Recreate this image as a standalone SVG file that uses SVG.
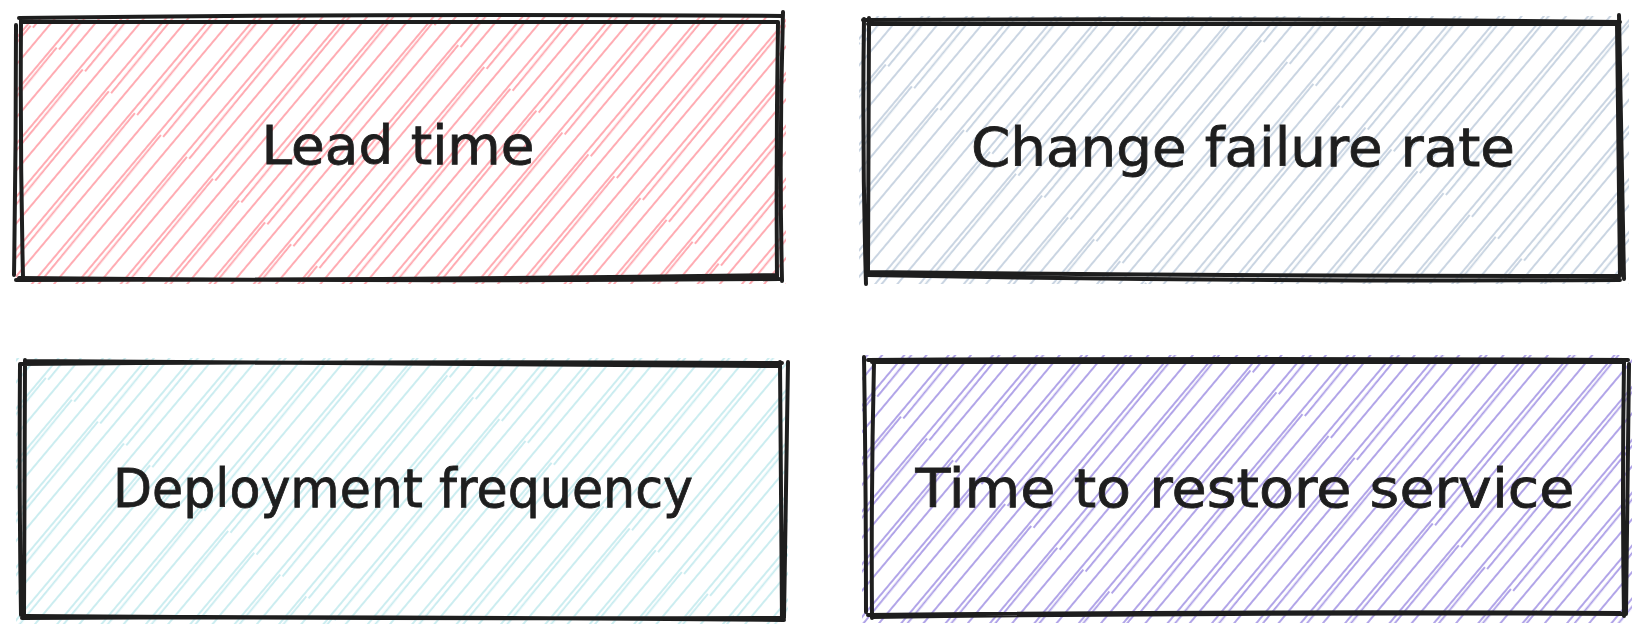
<svg xmlns="http://www.w3.org/2000/svg" width="1646" height="638" viewBox="0 0 1646 638">
<style>
.b{fill:none;stroke:#1e1e1e;stroke-width:4;stroke-linecap:round;stroke-linejoin:round}
.t{font-family:"DejaVu Sans","Liberation Sans",sans-serif;font-size:53px;fill:#1e1e1e;text-anchor:middle;stroke:#1e1e1e;stroke-width:0.8}
</style>
<defs>
<pattern id="hp" patternUnits="userSpaceOnUse" width="34" height="260" patternTransform="rotate(40)">
<g stroke="#ffa3ab" stroke-width="1.8" fill="none"><path d="M3 0 L3 260"/><path d="M6 0 L9 260"/><path d="M20 0 L20 260"/></g>
</pattern>
<pattern id="hg" patternUnits="userSpaceOnUse" width="34" height="260" patternTransform="rotate(40)">
<g stroke="#c4d1df" stroke-width="1.8" fill="none"><path d="M3 0 L3 260"/><path d="M6 0 L9 260"/><path d="M20 0 L20 260"/></g>
</pattern>
<pattern id="hc" patternUnits="userSpaceOnUse" width="34" height="260" patternTransform="rotate(40)">
<g stroke="#c6ebef" stroke-width="1.8" fill="none"><path d="M3 0 L3 260"/><path d="M6 0 L9 260"/><path d="M20 0 L20 260"/></g>
</pattern>
<pattern id="hv" patternUnits="userSpaceOnUse" width="34" height="260" patternTransform="rotate(40)">
<g stroke="#a99be6" stroke-width="1.8" fill="none"><path d="M3 0 L3 260"/><path d="M6 0 L9 260"/><path d="M20 0 L20 260"/></g>
</pattern>
</defs>
<rect width="1646" height="638" fill="#ffffff"/>
<g id="lead-time">
<rect x="16" y="16" width="770" height="268" fill="url(#hp)"/>
<path class="b" d="M19 18 Q400 13 783 16 M21 22 Q400 22 778 22 M783 12 Q779 150 782 281 M778 22 Q776 150 777 277 M779 279 Q400 282 19 278 M775 275 Q400 280 16 280 M14 275 Q16 150 16 25 M23 277 Q20 150 21 20"/>
<text class="t" x="398" y="164" textLength="273" lengthAdjust="spacingAndGlyphs">Lead time</text>
</g>
<g id="change-failure-rate">
<rect x="859" y="16" width="770" height="268" fill="url(#hg)"/>
<path class="b" d="M863 20 Q1240 18 1620 22 M868 24 Q1240 24 1618 24 M1619 15 Q1622 150 1624 279 M1617 24 Q1619 150 1620 276 M1619 276 Q1240 276 866 272 M1620 280 Q1240 282 868 275 M866 284 Q862 150 864 19 M868 270 Q869 150 869 18"/>
<text class="t" x="1243" y="166" textLength="544" lengthAdjust="spacingAndGlyphs">Change failure rate</text>
</g>
<g id="deployment-frequency">
<rect x="16" y="358" width="772" height="266" fill="url(#hc)"/>
<path class="b" d="M20 364 Q400 361 782 363 M25 361 Q400 364 780 366 M780 362 Q781 490 782 620 M788 362 Q786 490 784 618 M784 620 Q400 616 22 618 M780 618 Q400 619 26 616 M21 615 Q19 490 20 364 M24 617 Q24 490 25 360"/>
<text class="t" x="403" y="507" textLength="580" lengthAdjust="spacingAndGlyphs">Deployment frequency</text>
</g>
<g id="time-to-restore-service">
<rect x="862" y="355" width="770" height="268" fill="url(#hv)"/>
<path class="b" d="M868 360 Q1240 358 1628 360 M872 362 Q1240 362 1622 362 M1624 362 Q1622 490 1624 616 M1629 364 Q1628 490 1626 614 M1625 614 Q1240 612 872 617 M1620 613 Q1240 611 868 615 M864 357 Q866 490 866 612 M874 362 Q871 490 872 618"/>
<text class="t" x="1245" y="507" textLength="659" lengthAdjust="spacingAndGlyphs">Time to restore service</text>
</g>
<g id="connectors"></g>
</svg>
